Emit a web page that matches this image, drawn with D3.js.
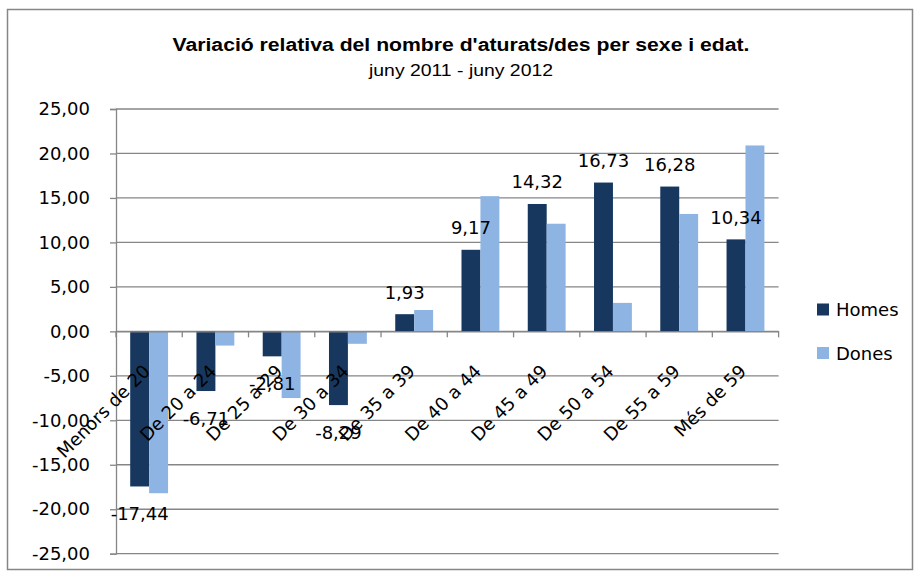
<!DOCTYPE html>
<html>
<head>
<meta charset="utf-8">
<script src="https://cdn.jsdelivr.net/npm/d3@7"></script>
<style>
  body { margin: 0; background: #fff; }
  text { font-family: "DejaVu Sans", sans-serif; fill: #000; }
</style>
</head>
<body>
<svg id="svg" width="920" height="576"></svg>
<script>
// ------ data ------
const categories = ['Menors de 20', 'De 20 a 24', 'De 25 a 29', 'De 30 a 34', 'De 35 a 39',
  'De 40 a 44', 'De 45 a 49', 'De 50 a 54', 'De 55 a 59', 'Més de 59'];
const seriesNames = ['Homes', 'Dones'];
const homes = [-17.44, -6.71, -2.81, -8.29, 1.93, 9.17, 14.32, 16.73, 16.28, 10.34];
const dones = [-18.2, -1.6, -7.5, -1.4, 2.4, 15.2, 12.1, 3.2, 13.2, 20.9];
const yTicks = [-25, -20, -15, -10, -5, 0, 5, 10, 15, 20, 25];
const colors = ['#17375E', '#8EB4E3'];

const svg = d3.select('#svg');

const fmt = v => v.toFixed(2).replace('.', ',');

// outer chart border
svg.append('rect')
  .attr('x', 7.5).attr('y', 9.5)
  .attr('width', 905).attr('height', 560)
  .attr('fill', '#fff')
  .attr('stroke', '#868686')
  .attr('stroke-width', 1.5);

// ------ title ------
svg.append('text')
  .attr('x', 461).attr('y', 51)
  .attr('text-anchor', 'middle')
  .attr('textLength', 577)
  .attr('lengthAdjust', 'spacingAndGlyphs')
  .style('font-family', '"Liberation Sans", Arial, sans-serif')
  .style('font-weight', 'bold')
  .style('font-size', '18px')
  .text("Variació relativa del nombre d'aturats/des per sexe i edat.");

svg.append('text')
  .attr('x', 461).attr('y', 76)
  .attr('text-anchor', 'middle')
  .attr('textLength', 184)
  .attr('lengthAdjust', 'spacingAndGlyphs')
  .style('font-family', '"Liberation Sans", Arial, sans-serif')
  .style('font-size', '17px')
  .text('juny 2011 - juny 2012');

// ------ scales ------
const x = d3.scaleBand()
  .domain(categories)
  .range([116, 778.6])
  .paddingInner(0)
  .paddingOuter(0);

const step = x.step();
const x1 = d3.scaleBand()
  .domain(seriesNames)
  .range([step * 0.75 / 3.5, step - step * 0.75 / 3.5]);

const y = d3.scaleLinear()
  .domain([-25, 25])
  .range([553.7, 109]);

// ------ gridlines ------
svg.append('g')
  .selectAll('line')
  .data(yTicks)
  .join('line')
  .attr('x1', x.range()[0])
  .attr('x2', x.range()[1])
  .attr('y1', d => y(d))
  .attr('y2', d => y(d))
  .attr('stroke', '#868686')
  .attr('stroke-width', 1.3);

// ------ y axis ------
const yAxis = svg.append('g')
  .attr('transform', `translate(${x.range()[0]},0)`)
  .call(d3.axisLeft(y).tickValues(yTicks).tickSize(6).tickPadding(20).tickFormat(fmt));
yAxis.select('.domain').attr('stroke', '#868686').attr('stroke-width', 1.3);
yAxis.selectAll('.tick line').attr('stroke', '#868686').attr('stroke-width', 1.3);
yAxis.selectAll('.tick text')
  .style('font-family', '"DejaVu Sans", sans-serif')
  .style('font-size', '18px')
  .attr('fill', '#000');

// ------ bars ------
const rows = categories.map((c, i) => ({cat: c, values: [homes[i], dones[i]]}));

const groups = svg.append('g')
  .selectAll('g')
  .data(rows)
  .join('g')
  .attr('transform', d => `translate(${x(d.cat)},0)`);

groups.selectAll('rect')
  .data(d => d.values.map((v, j) => ({name: seriesNames[j], value: v, j: j})))
  .join('rect')
  .attr('x', d => x1(d.name))
  .attr('width', x1.bandwidth())
  .attr('y', d => y(Math.max(0, d.value)))
  .attr('height', d => Math.abs(y(d.value) - y(0)))
  .attr('fill', d => colors[d.j]);

// ------ x axis at zero ------
const xAxis = svg.append('g')
  .attr('transform', `translate(0,${y(0)})`)
  .call(d3.axisBottom(x).tickSize(0).tickFormat(''));
xAxis.select('.domain').attr('stroke', '#868686').attr('stroke-width', 1.3);

// tick marks at category boundaries
svg.append('g')
  .selectAll('line')
  .data(categories.concat(['end']))
  .join('line')
  .attr('x1', (d, i) => x.range()[0] + i * step)
  .attr('x2', (d, i) => x.range()[0] + i * step)
  .attr('y1', y(0))
  .attr('y2', y(0) + 6)
  .attr('stroke', '#868686')
  .attr('stroke-width', 1.3);

// category labels, rotated
svg.append('g')
  .selectAll('text')
  .data(categories)
  .join('text')
  .attr('transform', d => `translate(${x(d) + step / 2 + 2},${y(0) + 41}) rotate(-45)`)
  .attr('text-anchor', 'end')
  .style('font-size', '18px')
  .text(d => d);

// ------ data labels (Homes only) ------
svg.append('g')
  .selectAll('text')
  .data(rows)
  .join('text')
  .attr('x', d => x(d.cat) + x1('Homes') + x1.bandwidth() / 2)
  .attr('y', d => d.values[0] >= 0 ? y(d.values[0]) - 15.5 : y(d.values[0]) + 34)
  .attr('text-anchor', 'middle')
  .style('font-size', '18px')
  .text(d => fmt(d.values[0]));

// ------ legend ------
const legend = svg.append('g')
  .selectAll('g')
  .data(seriesNames)
  .join('g')
  .attr('transform', (d, i) => `translate(817,${303.5 + i * 43.5})`);

legend.append('rect')
  .attr('width', 12).attr('height', 12)
  .attr('fill', (d, i) => colors[i]);

legend.append('text')
  .attr('x', 19).attr('y', 12.5)
  .style('font-size', '18px')
  .text(d => d);
</script>
</body>
</html>
